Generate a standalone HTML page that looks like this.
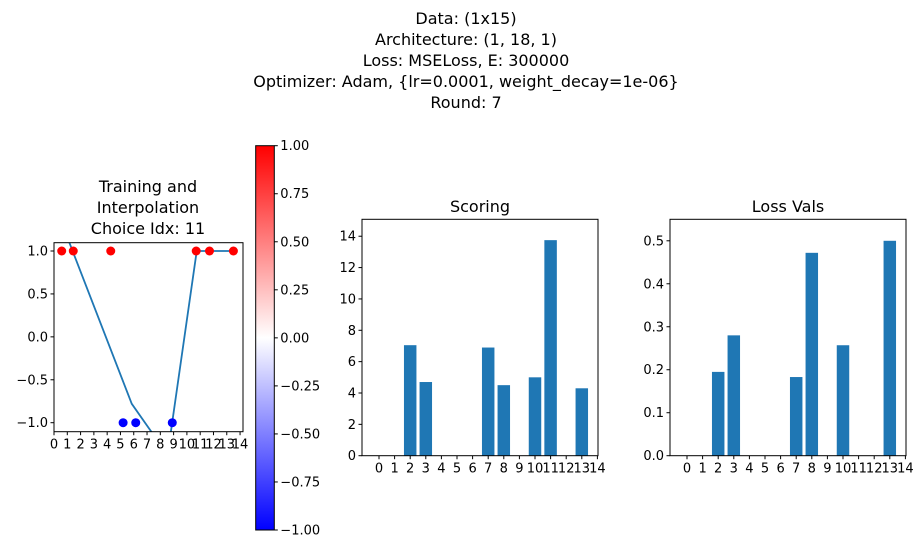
<!DOCTYPE html>
<html><head><meta charset="utf-8"><style>
body{margin:0;background:#fff;}
svg{display:block;font-family:"DejaVu Sans","Liberation Sans",sans-serif;}
</style></head><body>
<svg id="fig" width="924" height="548" viewBox="0 0 924 548">
<defs>
<linearGradient id="bwr" x1="0" y1="1" x2="0" y2="0">
<stop offset="0" stop-color="#0000ff"/><stop offset="0.5" stop-color="#ffffff"/><stop offset="1" stop-color="#ff0000"/>
</linearGradient>
<clipPath id="clipL"><rect x="54" y="242.7" width="189" height="189"/></clipPath>
</defs>
<g font-size="16" text-anchor="middle" fill="#000">
<text x="466" y="24">Data: (1x15)</text>
<text x="466" y="45">Architecture: (1, 18, 1)</text>
<text x="466" y="66">Loss: MSELoss, E: 300000</text>
<text x="466" y="87">Optimizer: Adam, {lr=0.0001, weight_decay=1e-06}</text>
<text x="466" y="108">Round: 7</text>
</g>
<g id="left"></g>
<g id="cbar"></g>
<g id="score"></g>
<g id="loss"></g>
</svg>
<script>
const ticks15 = [0,1,2,3,4,5,6,7,8,9,10,11,12,13,14];
const ptX = [0.58,1.45,4.27,5.2,6.15,8.9,10.7,11.7,13.5];
const ptY = [1,1,1,-1,-1,-1,1,1,1];
const lineX = [1.15,5.85,7.98,8.66,10.74,13.54];
const lineY = [1.1,-0.78,-1.25,-1.25,1.0,1.0];
const leftYTicks = [1.0,0.5,0.0,-0.5,-1.0];
const leftYLabels = ["1.0","0.5","0.0","−0.5","−1.0"];
const cbarTicks = [1,0.75,0.5,0.25,0,-0.25,-0.5,-0.75,-1];
const cbarLabels = ["1.00","0.75","0.50","0.25","0.00","−0.25","−0.50","−0.75","−1.00"];
const barCats = [0,1,2,3,4,5,6,7,8,9,10,11,12,13,14];
const scoreVals = [0,0,7.05,4.7,0,0,0,6.9,4.5,0,5.0,13.75,0,4.3,0];
const scoreTicks = [0,2,4,6,8,10,12,14];
const lossVals = [0,0,0.195,0.28,0,0,0,0.183,0.472,0,0.257,0,0,0.50,0];
const lossTicks = [0,0.1,0.2,0.3,0.4,0.5];
const lossLabels = ["0.0","0.1","0.2","0.3","0.4","0.5"];

const NS="http://www.w3.org/2000/svg";
function mk(parent,tag,attrs,text){const e=document.createElementNS(NS,tag);for(const k in attrs)e.setAttribute(k,attrs[k]);if(text!==undefined)e.textContent=text;parent.appendChild(e);return e;}

// left plot
(function(){
const g=document.getElementById('left');
const L=54,R=243,T=242.7,B=431.7;
const sx=v=>54+v*13.29, sy=v=>336.85-v*85.85;
mk(g,'rect',{x:L,y:T,width:R-L,height:B-T,fill:'#fff'});
let t=mk(g,'text',{x:148,y:192,'font-size':16,'text-anchor':'middle'},'Training and');

mk(g,'text',{x:148,y:213,'font-size':16,'text-anchor':'middle'},'Interpolation');
mk(g,'text',{x:148,y:234,'font-size':16,'text-anchor':'middle'},'Choice Idx: 11');
const pts=lineX.map((x,i)=>sx(x)+','+sy(lineY[i])).join(' ');
const pl=mk(g,'polyline',{points:pts,fill:'none',stroke:'#1f77b4','stroke-width':1.8,'clip-path':'url(#clipL)'});

ptX.forEach((x,i)=>{const c=mk(g,'circle',{cx:sx(x),cy:sy(ptY[i]),r:4.5,fill:ptY[i]>0?'#ff0000':'#0000ff','clip-path':'url(#clipL)'});
});
mk(g,'rect',{x:L,y:T,width:R-L,height:B-T,fill:'none',stroke:'#000','stroke-width':1});
ticks15.forEach(v=>{const x=sx(v);mk(g,'line',{x1:x,y1:B,x2:x,y2:B+3.5,stroke:'#000'});
const tx=mk(g,'text',{x:x,y:B+17,'font-size':13,'text-anchor':'middle'},String(v));
});
leftYTicks.forEach((v,i)=>{const y=sy(v);mk(g,'line',{x1:L-3.5,y1:y,x2:L,y2:y,stroke:'#000'});
const tx=mk(g,'text',{x:L-6,y:y+4.5,'font-size':13,'text-anchor':'end'},leftYLabels[i]);
});
})();

// colorbar
(function(){
const g=document.getElementById('cbar');
const L=255.7,R=274.3,T=145.7,B=530;
const sy=v=>T+(1-v)/2*(B-T);
mk(g,'rect',{x:L,y:T,width:R-L,height:B-T,fill:'url(#bwr)',stroke:'#000','stroke-width':1});
cbarTicks.forEach((v,i)=>{const y=sy(v);mk(g,'line',{x1:R,y1:y,x2:R+3.5,y2:y,stroke:'#000'});
const tx=mk(g,'text',{x:R+6,y:y+4.5,'font-size':13},cbarLabels[i]);
});
})();

function barChart(id,title,vals,yt,ylab,L,R,ymax,x0){
const g=document.getElementById(id);
const T=219.3,B=455.7;
const sy=v=>B-v*(B-T)/ymax, sx=i=>x0+i*15.6, bw=0.8*15.6;
const t=mk(g,'text',{x:(L+R)/2,y:212,'font-size':16,'text-anchor':'middle'},title);

barCats.forEach((c,i)=>{const v=vals[i];if(v<=0)return;
const r=mk(g,'rect',{x:sx(c)-bw/2,y:sy(v),width:bw,height:B-sy(v),fill:'#1f77b4'});
});
mk(g,'rect',{x:L,y:T,width:R-L,height:B-T,fill:'none',stroke:'#000','stroke-width':1});
ticks15.forEach(v=>{const x=sx(v);mk(g,'line',{x1:x,y1:B,x2:x,y2:B+3.5,stroke:'#000'});
const tx=mk(g,'text',{x:x,y:B+17,'font-size':13,'text-anchor':'middle'},String(v));
});
yt.forEach((v,i)=>{const y=sy(v);mk(g,'line',{x1:L-3.5,y1:y,x2:L,y2:y,stroke:'#000'});
const tx=mk(g,'text',{x:L-6,y:y+4.5,'font-size':13,'text-anchor':'end'},ylab[i]);
});
}
barChart('score','Scoring',scoreVals,scoreTicks,scoreTicks.map(String),362,598,15.08,379);
barChart('loss','Loss Vals',lossVals,lossTicks,lossLabels,670,906,0.55,687);
</script>
</body></html>
